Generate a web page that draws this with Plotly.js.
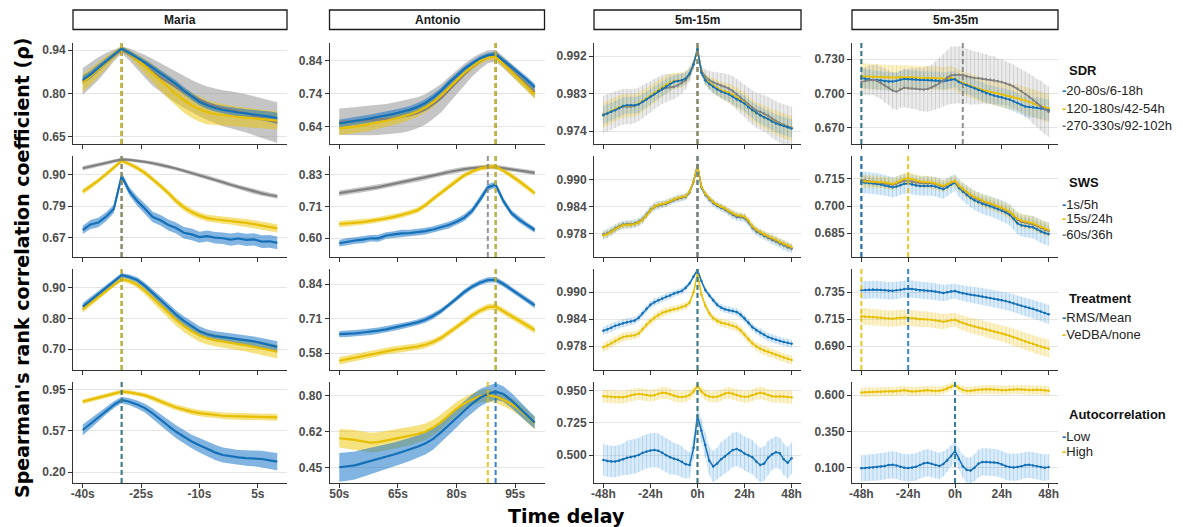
<!DOCTYPE html>
<html><head><meta charset="utf-8">
<script src="https://cdn.plot.ly/plotly-3.0.1.min.js"></script>
<style>html,body{margin:0;padding:0;background:#fff}#chart{width:1183px;height:527px}</style>
</head><body><div id="chart"></div>
<script>
// ---------- x positions ----------
const mariaX = [-40,-38,-36,-34,-32,-30,-28,-26,-24,-22,-20,-18,-16,-14,-12,-10,-8,-6,-4,-2,0,2,4,6,8,10];
const antonioX = [50,52,54,56,58,60,62,64,66,68,70,72,74,76,78,80,82,84,86,88,90,92,94,96,98,100];
const hourX = [-48,-46,-44,-42,-40,-38,-36,-34,-32,-30,-28,-26,-24,-22,-20,-18,-16,-14,-12,-10,-8,-6,-4,-2,0,2,4,6,8,10,12,14,16,18,20,22,24,26,28,30,32,34,36,38,40,42,44,46,48];

// ---------- facet / legend labels ----------
const facetLabels = ['Maria','Antonio','5m-15m','5m-35m'];
const legendTitles = ['SDR','SWS','Treatment','Autocorrelation'];
const sdrLabels = ['20-80s/6-18h','120-180s/42-54h','270-330s/92-102h'];
const swsLabels = ['1s/5h','15s/24h','60s/36h'];
const treatLabels = ['RMS/Mean','VeDBA/none'];
const autoLabels = ['Low','High'];
const xTickLabelsSec1 = ['-40s','-25s','-10s','5s'];
const xTickLabelsSec2 = ['50s','65s','80s','95s'];
const xTickLabelsHour = ['-48h','-24h','0h','24h','48h'];

// ---------- SDR row ----------
const sdrMariaBlue   = [.840,.858,.880,.902,.925,.945,.930,.915,.898,.880,.862,.845,.826,.804,.785,.767,.755,.746,.740,.735,.731,.728,.725,.721,.717,.712];
const sdrMariaBlueHW = [.014,.013,.012,.011,.009,.007,.008,.009,.010,.011,.012,.012,.012,.012,.012,.012,.012,.012,.013,.013,.014,.014,.015,.016,.017,.018];
const sdrMariaYellow   = [.830,.852,.875,.898,.922,.945,.928,.908,.886,.862,.838,.815,.792,.772,.755,.742,.732,.726,.722,.719,.716,.714,.712,.710,.707,.704];
const sdrMariaYellowHW = [.030,.028,.025,.020,.014,.008,.012,.018,.024,.030,.034,.038,.040,.042,.042,.042,.040,.038,.036,.035,.034,.033,.032,.032,.031,.030];
const sdrMariaGrey   = [.835,.856,.878,.900,.922,.940,.925,.905,.885,.865,.848,.832,.815,.800,.786,.773,.762,.753,.745,.740,.735,.728,.720,.712,.704,.697];
const sdrMariaGreyHW = [.045,.042,.038,.030,.020,.012,.020,.030,.038,.045,.048,.050,.052,.053,.054,.055,.056,.058,.060,.062,.063,.064,.065,.066,.067,.068];

const sdrAntonioBlue   = [.650,.653,.657,.661,.665,.669,.674,.679,.685,.691,.700,.712,.728,.748,.772,.795,.815,.832,.847,.856,.860,.840,.822,.802,.782,.760];
const sdrAntonioBlueHW = [.012,.012,.012,.012,.012,.012,.012,.012,.012,.012,.012,.011,.011,.010,.010,.009,.009,.008,.008,.008,.008,.008,.009,.009,.010,.010];
const sdrAntonioYellow   = [.635,.637,.640,.644,.648,.653,.658,.664,.670,.677,.686,.698,.714,.734,.757,.781,.803,.822,.839,.851,.852,.830,.808,.785,.762,.738];
const sdrAntonioYellowHW = [.020,.020,.020,.020,.020,.019,.019,.018,.018,.017,.016,.015,.014,.013,.012,.011,.010,.010,.010,.010,.010,.011,.012,.013,.014,.015];
const sdrAntonioGrey   = [.655,.656,.657,.658,.659,.660,.663,.666,.670,.675,.682,.692,.708,.726,.750,.775,.798,.820,.838,.852,.855,.835,.813,.790,.768,.745];
const sdrAntonioGreyHW = [.040,.040,.042,.044,.045,.045,.046,.047,.048,.048,.047,.046,.045,.043,.040,.037,.033,.028,.024,.020,.018,.018,.018,.018,.018,.018];

const sdr15Blue   = [.9778,.9782,.9786,.9790,.9795,.9800,.9802,.9802,.9802,.9804,.9810,.9816,.9822,.9829,.9836,.9842,.9847,.9853,.9858,.9860,.9862,.9866,.9878,.9900,.9936,.9880,.9862,.9853,.9846,.9840,.9835,.9831,.9828,.9822,.9816,.9812,.9806,.9797,.9790,.9783,.9778,.9773,.9769,.9763,.9758,.9755,.9752,.9749,.9746];
const sdr15BlueHW = [.0022,.0022,.0022,.0021,.0021,.0021,.0020,.0020,.0020,.0020,.0019,.0019,.0019,.0018,.0018,.0018,.0017,.0017,.0016,.0016,.0015,.0014,.0012,.0009,.0005,.0009,.0012,.0014,.0015,.0016,.0016,.0017,.0017,.0018,.0018,.0018,.0019,.0019,.0019,.0020,.0020,.0020,.0021,.0021,.0021,.0022,.0022,.0022,.0022];
const sdr15Yellow   = [.9778,.9783,.9788,.9792,.9797,.9800,.9801,.9801,.9802,.9806,.9812,.9818,.9824,.9831,.9838,.9845,.9851,.9856,.9860,.9861,.9862,.9866,.9878,.9900,.9936,.9882,.9864,.9856,.9849,.9843,.9838,.9835,.9832,.9827,.9820,.9814,.9808,.9798,.9789,.9783,.9778,.9773,.9769,.9764,.9760,.9756,.9752,.9749,.9747];
const sdr15YellowHW = [.0030,.0030,.0029,.0029,.0028,.0028,.0028,.0027,.0027,.0026,.0026,.0025,.0025,.0024,.0024,.0023,.0022,.0021,.0020,.0019,.0018,.0016,.0013,.0010,.0006,.0010,.0013,.0016,.0018,.0019,.0020,.0021,.0022,.0023,.0024,.0024,.0025,.0025,.0026,.0026,.0027,.0027,.0028,.0028,.0029,.0029,.0030,.0030,.0030];
const sdr15Grey   = [.9780,.9783,.9787,.9791,.9795,.9798,.9799,.9798,.9800,.9804,.9810,.9816,.9822,.9829,.9835,.9840,.9843,.9845,.9846,.9850,.9855,.9862,.9876,.9900,.9937,.9885,.9870,.9862,.9857,.9853,.9849,.9846,.9842,.9836,.9828,.9820,.9812,.9803,.9795,.9789,.9786,.9782,.9777,.9770,.9764,.9759,.9755,.9751,.9748];
const sdr15GreyHW = [.0045,.0045,.0044,.0044,.0043,.0043,.0042,.0042,.0041,.0040,.0040,.0039,.0038,.0037,.0036,.0035,.0034,.0032,.0030,.0028,.0025,.0022,.0018,.0013,.0008,.0013,.0018,.0022,.0025,.0028,.0030,.0032,.0034,.0036,.0037,.0038,.0039,.0040,.0041,.0042,.0043,.0044,.0045,.0046,.0047,.0048,.0049,.0050,.0050];

const sdr35Blue   = [.7135,.7128,.7122,.7117,.7116,.7112,.7106,.7102,.7104,.7110,.7120,.7125,.7124,.7122,.7120,.7117,.7116,.7117,.7116,.7114,.7110,.7106,.7112,.7120,.7122,.7098,.7082,.7070,.7058,.7045,.7030,.7015,.7000,.6990,.6980,.6972,.6965,.6955,.6945,.6930,.6915,.6900,.6885,.6880,.6878,.6875,.6868,.6860,.6852];
const sdr35BlueHW = [.0085,.0084,.0083,.0082,.0080,.0081,.0079,.0080,.0078,.0079,.0078,.0077,.0078,.0076,.0077,.0075,.0076,.0075,.0074,.0075,.0073,.0074,.0072,.0073,.0070,.0072,.0073,.0075,.0074,.0076,.0077,.0079,.0078,.0080,.0081,.0083,.0082,.0084,.0085,.0086,.0088,.0087,.0089,.0090,.0092,.0091,.0093,.0094,.0095];
const sdr35Yellow   = [.7150,.7148,.7146,.7145,.7143,.7142,.7140,.7138,.7137,.7138,.7140,.7141,.7140,.7139,.7138,.7136,.7135,.7134,.7133,.7132,.7130,.7128,.7130,.7135,.7125,.7105,.7090,.7078,.7065,.7052,.7040,.7030,.7020,.7012,.7005,.6998,.6990,.6982,.6975,.6968,.6960,.6950,.6938,.6925,.6912,.6900,.6888,.6878,.6870];
const sdr35YellowHW = [.0115,.0114,.0112,.0113,.0111,.0110,.0111,.0109,.0110,.0108,.0109,.0107,.0108,.0106,.0107,.0105,.0106,.0104,.0105,.0103,.0104,.0102,.0103,.0101,.0100,.0101,.0102,.0103,.0104,.0105,.0106,.0108,.0107,.0109,.0110,.0112,.0111,.0113,.0114,.0115,.0117,.0116,.0118,.0119,.0121,.0120,.0122,.0123,.0124];
const sdr35Grey   = [.7100,.7108,.7114,.7116,.7110,.7090,.7070,.7050,.7025,.7015,.7035,.7048,.7045,.7042,.7040,.7036,.7034,.7038,.7050,.7068,.7090,.7115,.7140,.7158,.7160,.7162,.7163,.7150,.7140,.7135,.7132,.7128,.7124,.7119,.7114,.7106,.7098,.7088,.7075,.7060,.7040,.7020,.6995,.6970,.6942,.6915,.6890,.6862,.6840];
const sdr35GreyHW = [.012,.012,.013,.013,.014,.014,.015,.015,.016,.016,.016,.017,.017,.018,.018,.019,.019,.020,.020,.021,.022,.023,.024,.025,.025,.025,.025,.024,.024,.023,.023,.022,.022,.021,.021,.020,.020,.019,.019,.019,.019,.019,.020,.020,.021,.021,.022,.022,.022];

// ---------- SWS row ----------
const swsMariaBlue   = [.698,.718,.725,.746,.775,.894,.838,.803,.775,.745,.733,.716,.705,.688,.682,.672,.676,.670,.668,.663,.667,.662,.664,.656,.657,.651];
const swsMariaBlueHW = [.015,.016,.017,.016,.015,.012,.015,.017,.018,.019,.019,.020,.020,.021,.021,.020,.020,.021,.021,.022,.022,.022,.022,.023,.023,.023];
const swsMariaYellow   = [.837,.856,.877,.900,.924,.949,.937,.923,.905,.882,.858,.832,.803,.780,.763,.750,.741,.737,.734,.731,.728,.724,.719,.714,.709,.704];
const swsMariaYellowHW = [.010,.010,.009,.009,.008,.007,.008,.009,.010,.010,.011,.011,.012,.012,.012,.012,.012,.013,.013,.013,.014,.014,.014,.015,.015,.015];
const swsMariaGrey   = [.922,.928,.934,.941,.948,.954,.952,.949,.945,.940,.935,.928,.921,.913,.905,.897,.889,.880,.871,.862,.854,.846,.838,.831,.825,.820];
const swsMariaGreyHW = [.008,.008,.007,.007,.006,.006,.006,.006,.006,.007,.007,.007,.007,.007,.008,.008,.008,.008,.008,.008,.008,.009,.009,.009,.009,.009];

const swsAntonioBlue   = [.582,.588,.592,.595,.600,.600,.610,.614,.618,.619,.622,.626,.632,.640,.648,.660,.675,.700,.740,.785,.795,.735,.692,.668,.648,.630];
const swsAntonioBlueHW = [.012,.013,.012,.013,.012,.013,.012,.012,.013,.012,.012,.012,.012,.012,.012,.012,.012,.012,.012,.011,.011,.011,.011,.011,.010,.010];
const swsAntonioYellow   = [.652,.654,.656,.659,.663,.667,.672,.678,.685,.693,.702,.720,.743,.765,.788,.810,.829,.843,.854,.859,.861,.846,.828,.808,.786,.764];
const swsAntonioYellowHW = [.011,.011,.011,.010,.010,.010,.010,.010,.010,.010,.010,.010,.010,.010,.010,.010,.009,.009,.009,.009,.009,.009,.010,.010,.010,.010];
const swsAntonioGrey   = [.764,.768,.772,.776,.781,.786,.792,.798,.804,.809,.814,.820,.827,.834,.841,.847,.851,.855,.858,.860,.859,.855,.851,.847,.842,.838];
const swsAntonioGreyHW = [.010,.010,.010,.010,.010,.010,.009,.009,.009,.009,.009,.009,.009,.009,.009,.009,.009,.008,.008,.008,.008,.008,.008,.008,.008,.008];

const sws15Blue   = [.9778,.9781,.9786,.9792,.9797,.9800,.9801,.9801,.9803,.9806,.9812,.9822,.9833,.9840,.9843,.9845,.9847,.9851,.9855,.9858,.9860,.9862,.9872,.9895,.9931,.9882,.9866,.9856,.9848,.9842,.9838,.9834,.9828,.9822,.9818,.9817,.9815,.9806,.9794,.9786,.9781,.9776,.9772,.9768,.9764,.9759,.9755,.9751,.9748];
const sws15BlueHW = [.0010,.0010,.0010,.0010,.0009,.0009,.0009,.0009,.0009,.0009,.0009,.0009,.0009,.0009,.0009,.0008,.0008,.0008,.0008,.0008,.0008,.0008,.0007,.0006,.0005,.0006,.0007,.0008,.0008,.0008,.0008,.0008,.0008,.0009,.0009,.0009,.0009,.0009,.0009,.0009,.0009,.0009,.0009,.0010,.0010,.0010,.0010,.0010,.0010];
const sws15Yellow   = [.9777,.9780,.9785,.9791,.9796,.9799,.9800,.9800,.9802,.9805,.9811,.9821,.9832,.9840,.9844,.9846,.9848,.9852,.9856,.9859,.9861,.9863,.9873,.9896,.9931,.9884,.9868,.9858,.9850,.9844,.9840,.9836,.9830,.9825,.9821,.9820,.9818,.9809,.9797,.9789,.9784,.9779,.9775,.9771,.9767,.9762,.9758,.9754,.9751];
const sws15YellowHW = [.0008,.0008,.0008,.0008,.0008,.0007,.0007,.0007,.0007,.0007,.0007,.0007,.0007,.0007,.0007,.0007,.0007,.0007,.0006,.0006,.0006,.0006,.0006,.0005,.0004,.0005,.0006,.0006,.0006,.0006,.0007,.0007,.0007,.0007,.0007,.0007,.0007,.0007,.0007,.0007,.0007,.0008,.0008,.0008,.0008,.0008,.0008,.0008,.0008];
const sws15Grey   = [.9778,.9781,.9785,.9791,.9796,.9800,.9801,.9801,.9802,.9806,.9812,.9822,.9832,.9840,.9843,.9845,.9847,.9851,.9855,.9858,.9860,.9862,.9872,.9895,.9930,.9883,.9867,.9857,.9849,.9843,.9839,.9835,.9829,.9823,.9819,.9818,.9816,.9807,.9795,.9787,.9782,.9777,.9773,.9769,.9765,.9760,.9756,.9752,.9749];
const sws15GreyHW = [.0006,.0006,.0006,.0006,.0006,.0006,.0006,.0006,.0006,.0006,.0006,.0006,.0005,.0005,.0005,.0005,.0005,.0005,.0005,.0005,.0005,.0005,.0005,.0004,.0004,.0004,.0005,.0005,.0005,.0005,.0005,.0005,.0005,.0005,.0005,.0005,.0005,.0005,.0006,.0006,.0006,.0006,.0006,.0006,.0006,.0006,.0006,.0006,.0006];

const sws35Blue   = [.7132,.7130,.7128,.7126,.7124,.7120,.7114,.7110,.7104,.7108,.7116,.7124,.7125,.7120,.7114,.7111,.7111,.7112,.7111,.7108,.7100,.7093,.7105,.7120,.7130,.7100,.7080,.7062,.7045,.7032,.7022,.7012,.7006,.7000,.6993,.6983,.6975,.6965,.6952,.6930,.6905,.6894,.6890,.6886,.6883,.6872,.6860,.6852,.6846];
const sws35BlueHW = [.0060,.0060,.0059,.0058,.0058,.0057,.0057,.0056,.0056,.0056,.0055,.0055,.0055,.0055,.0054,.0054,.0054,.0054,.0053,.0053,.0053,.0052,.0050,.0048,.0046,.0048,.0050,.0052,.0053,.0054,.0055,.0055,.0056,.0056,.0057,.0057,.0058,.0058,.0059,.0059,.0060,.0060,.0061,.0061,.0062,.0062,.0063,.0063,.0064];
const sws35Yellow   = [.7138,.7137,.7136,.7135,.7134,.7133,.7130,.7126,.7122,.7130,.7140,.7150,.7155,.7148,.7140,.7136,.7134,.7133,.7130,.7125,.7118,.7112,.7120,.7132,.7138,.7112,.7095,.7078,.7062,.7050,.7040,.7030,.7022,.7015,.7008,.7000,.6990,.6980,.6968,.6950,.6930,.6920,.6915,.6910,.6905,.6895,.6885,.6876,.6868];
const sws35YellowHW = [.0036,.0036,.0035,.0035,.0035,.0034,.0034,.0034,.0034,.0033,.0033,.0033,.0032,.0033,.0033,.0033,.0034,.0034,.0034,.0034,.0033,.0033,.0032,.0031,.0030,.0031,.0032,.0033,.0033,.0034,.0034,.0035,.0035,.0035,.0036,.0036,.0036,.0037,.0037,.0037,.0038,.0038,.0038,.0039,.0039,.0039,.0040,.0040,.0040];
const sws35Grey   = [.7145,.7142,.7138,.7135,.7132,.7130,.7127,.7122,.7118,.7125,.7133,.7140,.7140,.7135,.7130,.7128,.7127,.7128,.7126,.7122,.7115,.7108,.7118,.7130,.7136,.7110,.7092,.7075,.7058,.7046,.7036,.7026,.7018,.7012,.7005,.6996,.6986,.6976,.6964,.6945,.6925,.6914,.6909,.6904,.6900,.6890,.6880,.6870,.6862];
const sws35GreyHW = [.0026,.0026,.0025,.0025,.0025,.0025,.0024,.0024,.0024,.0024,.0024,.0023,.0023,.0023,.0023,.0023,.0023,.0023,.0023,.0022,.0022,.0022,.0021,.0020,.0019,.0020,.0021,.0022,.0022,.0023,.0023,.0023,.0024,.0024,.0024,.0024,.0025,.0025,.0025,.0025,.0026,.0026,.0026,.0026,.0027,.0027,.0027,.0027,.0028];

// ---------- Treatment row ----------
const trtMariaBlue   = [.838,.858,.879,.900,.921,.941,.935,.925,.906,.884,.860,.836,.812,.792,.775,.758,.748,.742,.739,.736,.733,.729,.725,.719,.713,.707];
const trtMariaBlueHW = [.012,.011,.010,.009,.008,.007,.008,.009,.010,.011,.012,.013,.014,.015,.016,.016,.016,.016,.016,.016,.016,.016,.016,.017,.017,.018];
const trtMariaYellow   = [.830,.850,.870,.890,.910,.928,.922,.910,.890,.866,.842,.818,.795,.775,.758,.744,.735,.729,.724,.720,.716,.712,.707,.702,.697,.691];
const trtMariaYellowHW = [.012,.011,.010,.009,.008,.008,.009,.010,.012,.014,.016,.018,.019,.020,.020,.020,.020,.020,.020,.020,.020,.020,.021,.021,.022,.022];

const trtAntonioBlue   = [.652,.653,.655,.658,.661,.665,.670,.676,.682,.688,.696,.706,.720,.738,.760,.785,.810,.830,.845,.855,.856,.840,.820,.800,.780,.760];
const trtAntonioBlueHW = [.012,.012,.012,.012,.012,.012,.012,.011,.011,.011,.011,.011,.011,.010,.010,.010,.010,.010,.010,.010,.010,.010,.010,.010,.010,.011];
const trtAntonioYellow   = [.552,.558,.564,.570,.576,.582,.588,.593,.597,.601,.605,.612,.622,.637,.656,.678,.700,.722,.740,.753,.755,.738,.722,.704,.685,.667];
const trtAntonioYellowHW = [.014,.014,.014,.013,.013,.013,.013,.013,.013,.013,.013,.013,.012,.012,.012,.012,.012,.012,.012,.012,.012,.012,.012,.012,.013,.013];

const trt15Blue   = [.9814,.9817,.9821,.9825,.9828,.9831,.9833,.9835,.9837,.9843,.9853,.9863,.9872,.9878,.9882,.9886,.9890,.9893,.9897,.9900,.9903,.9910,.9920,.9935,.9950,.9925,.9905,.9893,.9882,.9872,.9866,.9862,.9860,.9858,.9856,.9850,.9842,.9832,.9822,.9815,.9810,.9805,.9800,.9797,.9794,.9791,.9789,.9787,.9785];
const trt15BlueHW = [.0009,.0009,.0009,.0009,.0009,.0009,.0009,.0008,.0008,.0008,.0008,.0008,.0008,.0008,.0008,.0008,.0008,.0008,.0007,.0007,.0007,.0007,.0006,.0005,.0004,.0005,.0006,.0007,.0007,.0007,.0008,.0008,.0008,.0008,.0008,.0008,.0008,.0008,.0008,.0008,.0009,.0009,.0009,.0009,.0009,.0009,.0009,.0009,.0009];
const trt15Yellow   = [.9777,.9781,.9786,.9791,.9796,.9800,.9802,.9803,.9804,.9808,.9818,.9828,.9836,.9843,.9849,.9854,.9857,.9860,.9862,.9864,.9867,.9870,.9877,.9900,.9942,.9895,.9870,.9853,.9842,.9836,.9832,.9830,.9828,.9825,.9822,.9815,.9805,.9795,.9786,.9779,.9774,.9770,.9767,.9764,.9760,.9757,.9754,.9751,.9749];
const trt15YellowHW = [.0010,.0010,.0010,.0010,.0010,.0010,.0009,.0009,.0009,.0009,.0009,.0009,.0009,.0009,.0009,.0009,.0009,.0008,.0008,.0008,.0008,.0008,.0007,.0006,.0005,.0006,.0007,.0008,.0008,.0008,.0009,.0009,.0009,.0009,.0009,.0009,.0009,.0009,.0009,.0009,.0010,.0010,.0010,.0010,.0010,.0010,.0010,.0010,.0010];

const trt35Blue   = [.7368,.7370,.7372,.7373,.7372,.7370,.7366,.7363,.7362,.7366,.7372,.7377,.7380,.7377,.7372,.7368,.7365,.7363,.7360,.7356,.7350,.7345,.7350,.7358,.7360,.7350,.7342,.7336,.7330,.7325,.7320,.7314,.7308,.7302,.7296,.7290,.7284,.7276,.7268,.7258,.7248,.7238,.7228,.7220,.7212,.7200,.7188,.7176,.7165];
const trt35BlueHW = [.0075,.0075,.0074,.0074,.0074,.0073,.0073,.0073,.0072,.0072,.0072,.0071,.0071,.0071,.0071,.0070,.0070,.0070,.0070,.0069,.0069,.0068,.0066,.0064,.0062,.0064,.0066,.0068,.0069,.0070,.0070,.0071,.0071,.0072,.0072,.0073,.0073,.0074,.0074,.0075,.0075,.0076,.0076,.0077,.0077,.0078,.0078,.0079,.0079];
const trt35Yellow   = [.7150,.7146,.7142,.7140,.7138,.7136,.7133,.7130,.7129,.7132,.7136,.7138,.7136,.7132,.7128,.7125,.7124,.7123,.7120,.7116,.7110,.7104,.7110,.7118,.7120,.7105,.7092,.7082,.7072,.7064,.7056,.7048,.7040,.7032,.7024,.7015,.7006,.6996,.6986,.6974,.6962,.6950,.6938,.6928,.6918,.6906,.6895,.6886,.6878];
const trt35YellowHW = [.0070,.0070,.0070,.0069,.0069,.0069,.0068,.0068,.0068,.0068,.0067,.0067,.0067,.0067,.0066,.0066,.0066,.0066,.0065,.0065,.0065,.0064,.0062,.0060,.0058,.0060,.0062,.0064,.0065,.0066,.0066,.0067,.0067,.0068,.0068,.0069,.0069,.0070,.0070,.0071,.0071,.0072,.0072,.0073,.0073,.0074,.0074,.0075,.0075];

// ---------- Autocorrelation row ----------
const acMariaBlue   = [.582,.640,.700,.758,.810,.853,.838,.812,.780,.732,.673,.620,.566,.520,.478,.444,.410,.380,.356,.342,.334,.328,.326,.320,.308,.296];
const acMariaBlueHW = [.050,.045,.040,.035,.032,.030,.032,.036,.040,.045,.050,.055,.058,.060,.062,.065,.066,.068,.068,.068,.068,.070,.072,.074,.076,.078];
const acMariaYellow   = [.838,.855,.873,.892,.912,.928,.922,.910,.895,.870,.838,.812,.786,.765,.748,.734,.724,.717,.711,.707,.704,.702,.700,.699,.698,.697];
const acMariaYellowHW = [.020,.020,.020,.020,.020,.020,.020,.021,.022,.023,.024,.025,.026,.027,.028,.028,.029,.029,.030,.030,.030,.030,.030,.031,.031,.031];

const acAntonioBlue   = [.452,.456,.461,.472,.482,.492,.503,.514,.526,.538,.552,.568,.590,.622,.658,.694,.730,.762,.790,.808,.820,.808,.778,.740,.703,.669];
const acAntonioBlueHW = [.070,.070,.068,.066,.064,.062,.060,.058,.057,.056,.055,.054,.053,.052,.050,.048,.046,.044,.042,.040,.040,.038,.036,.034,.032,.030];
const acAntonioYellow   = [.593,.590,.585,.578,.572,.574,.582,.589,.596,.603,.613,.625,.645,.672,.705,.737,.762,.782,.797,.803,.795,.780,.760,.735,.700,.666];
const acAntonioYellowHW = [.045,.047,.048,.048,.048,.048,.047,.046,.045,.044,.042,.040,.038,.036,.034,.032,.030,.030,.030,.030,.030,.030,.030,.030,.030,.030];

const ac15Blue   = [.465,.458,.454,.454,.460,.470,.480,.486,.490,.500,.515,.525,.532,.535,.530,.515,.498,.485,.474,.466,.452,.435,.430,.550,.775,.670,.570,.460,.420,.440,.470,.490,.512,.535,.542,.530,.510,.498,.485,.455,.430,.440,.480,.505,.520,.512,.470,.445,.478];
const ac15BlueHW = [.11,.11,.11,.11,.11,.11,.12,.12,.12,.12,.12,.12,.12,.12,.12,.12,.12,.12,.11,.11,.11,.10,.09,.08,.07,.08,.09,.10,.11,.11,.12,.12,.12,.12,.12,.12,.12,.12,.12,.12,.12,.12,.12,.11,.11,.11,.11,.11,.11];
const ac15Yellow   = [.912,.910,.906,.905,.904,.905,.910,.918,.924,.927,.925,.920,.915,.918,.928,.935,.934,.926,.915,.908,.906,.910,.920,.945,.985,.945,.920,.910,.906,.908,.918,.930,.935,.930,.920,.912,.908,.910,.920,.930,.935,.930,.920,.912,.910,.912,.910,.906,.904];
const ac15YellowHW = [.045,.045,.044,.044,.044,.043,.043,.043,.042,.042,.042,.042,.041,.041,.041,.041,.040,.040,.040,.040,.039,.038,.036,.032,.025,.032,.036,.038,.039,.040,.040,.040,.041,.041,.041,.041,.042,.042,.042,.042,.043,.043,.043,.043,.044,.044,.044,.045,.045];

const ac35Blue   = [.096,.098,.100,.102,.104,.108,.112,.118,.120,.116,.106,.100,.098,.100,.106,.118,.130,.134,.128,.118,.112,.125,.150,.180,.215,.160,.110,.085,.080,.100,.128,.140,.140,.138,.135,.132,.122,.110,.104,.102,.104,.110,.118,.120,.116,.110,.104,.100,.104];
const ac35BlueHW = [.090,.090,.091,.091,.092,.092,.092,.093,.093,.093,.093,.093,.094,.094,.094,.094,.094,.093,.093,.092,.090,.086,.080,.072,.065,.072,.080,.086,.090,.092,.093,.093,.094,.094,.094,.094,.093,.093,.093,.092,.092,.092,.091,.091,.091,.090,.090,.090,.090];
const ac35Yellow   = [.618,.619,.620,.621,.622,.623,.624,.624,.623,.625,.630,.633,.628,.624,.625,.628,.631,.632,.630,.628,.630,.635,.645,.655,.670,.648,.635,.628,.628,.632,.636,.638,.639,.639,.637,.634,.632,.633,.636,.638,.639,.638,.636,.634,.634,.636,.635,.632,.630];
const ac35YellowHW = [.032,.032,.032,.031,.031,.031,.031,.031,.030,.030,.030,.030,.030,.030,.030,.030,.030,.030,.030,.029,.029,.028,.027,.025,.022,.025,.027,.028,.029,.029,.030,.030,.030,.030,.030,.030,.030,.030,.030,.030,.031,.031,.031,.031,.031,.031,.032,.032,.032];

// ---------- styling ----------
const W = 1183, H = 527;
const colPx = [[73,287],[329.5,544.5],[594,801],[852,1058]];
const rowPx = [[43,144],[156,257],[269,370],[382,483]];
const C = {
  blue:   {line:'#1570B8', fill:'rgba(25,118,200,0.55)', band:'rgba(100,170,228,0.24)', bar:'rgba(90,165,225,0.32)'},
  yellow: {line:'#E6BE00', fill:'rgba(238,196,0,0.50)',  band:'rgba(240,205,60,0.26)', bar:'rgba(235,200,40,0.32)'},
  grey:   {line:'#808080', fill:'rgba(150,150,150,0.55)', band:'rgba(170,170,170,0.24)', bar:'rgba(150,150,150,0.32)'}
};
const xRanges = [[-42.5,12.5],[47.5,102.5],[-52.8,52.8],[-52.8,52.8]];
const xTicks = [[-40,-25,-10,5],[50,65,80,95],[-48,-24,0,24,48],[-48,-24,0,24,48]];
const xTickText = [xTickLabelsSec1, xTickLabelsSec2, xTickLabelsHour, xTickLabelsHour];
const xData = [mariaX, antonioX, hourX, hourX];

// s: series drawn in listed order; v: order of the dashed peak lines (last on top)
const panels = [
  {r:0,c:0,s:[['grey',sdrMariaGrey,sdrMariaGreyHW],['yellow',sdrMariaYellow,sdrMariaYellowHW],['blue',sdrMariaBlue,sdrMariaBlueHW]], v:['blue','grey','yellow'], yr:[0.6256,0.9634], yt:[0.65,0.795,0.94], yl:['0.65','0.80','0.94']},
  {r:0,c:1,s:[['grey',sdrAntonioGrey,sdrAntonioGreyHW],['yellow',sdrAntonioYellow,sdrAntonioYellowHW],['blue',sdrAntonioBlue,sdrAntonioBlueHW]], v:['blue','grey','yellow'], yr:[0.5876,0.8936], yt:[0.64,0.74,0.84], yl:['0.64','0.74','0.84']},
  {r:0,c:2,s:[['grey',sdr15Grey,sdr15GreyHW],['yellow',sdr15Yellow,sdr15YellowHW],['blue',sdr15Blue,sdr15BlueHW]], v:['blue','yellow','grey'], yr:[0.97088,0.99512], yt:[0.974,0.983,0.992], yl:['0.974','0.983','0.992']},
  {r:0,c:3,s:[['yellow',sdr35Yellow,sdr35YellowHW],['blue',sdr35Blue,sdr35BlueHW],['grey',sdr35Grey,sdr35GreyHW]], v:['yellow','blue','grey'], yr:[0.6557,0.744], yt:[0.67,0.70,0.73], yl:['0.670','0.700','0.730']},
  {r:1,c:0,s:[['blue',swsMariaBlue,swsMariaBlueHW],['yellow',swsMariaYellow,swsMariaYellowHW],['grey',swsMariaGrey,swsMariaGreyHW]], v:['blue','yellow','grey'], yr:[0.600,0.9664], yt:[0.67,0.785,0.90], yl:['0.67','0.79','0.90']},
  {r:1,c:1,s:[['blue',swsAntonioBlue,swsAntonioBlueHW],['grey',swsAntonioGrey,swsAntonioGreyHW],['yellow',swsAntonioYellow,swsAntonioYellowHW]], v:['blue','grey','yellow'], yr:[0.532,0.899], yt:[0.60,0.715,0.83], yl:['0.60','0.71','0.83']},
  {r:1,c:2,s:[['blue',sws15Blue,sws15BlueHW],['grey',sws15Grey,sws15GreyHW],['yellow',sws15Yellow,sws15YellowHW]], v:['yellow','blue','grey'], yr:[0.97294,0.99512], yt:[0.978,0.984,0.990], yl:['0.978','0.984','0.990']},
  {r:1,c:3,s:[['blue',sws35Blue,sws35BlueHW],['grey',sws35Grey,sws35GreyHW],['yellow',sws35Yellow,sws35YellowHW]], v:['grey','blue','yellow'], yr:[0.6719,0.7277], yt:[0.685,0.70,0.715], yl:['0.685','0.700','0.715']},
  {r:2,c:0,s:[['yellow',trtMariaYellow,trtMariaYellowHW],['blue',trtMariaBlue,trtMariaBlueHW]], v:['blue','yellow'], yr:[0.6315,0.961], yt:[0.70,0.80,0.90], yl:['0.70','0.80','0.90']},
  {r:2,c:1,s:[['yellow',trtAntonioYellow,trtAntonioYellowHW],['blue',trtAntonioBlue,trtAntonioBlueHW]], v:['blue','yellow'], yr:[0.5173,0.8963], yt:[0.58,0.71,0.84], yl:['0.58','0.71','0.84']},
  {r:2,c:2,s:[['yellow',trt15Yellow,trt15YellowHW],['blue',trt15Blue,trt15BlueHW]], v:['yellow','blue'], yr:[0.97264,0.9952], yt:[0.978,0.984,0.990], yl:['0.978','0.984','0.990']},
  {r:2,c:3,s:[['yellow',trt35Yellow,trt35YellowHW],['blue',trt35Blue,trt35BlueHW]], v:['yellow','blue'], yr:[0.6699,0.7545], yt:[0.69,0.7125,0.735], yl:['0.690','0.715','0.735']},
  {r:3,c:0,s:[['yellow',acMariaYellow,acMariaYellowHW],['blue',acMariaBlue,acMariaBlueHW]], v:['yellow','blue'], yr:[0.103,1.016], yt:[0.20,0.575,0.95], yl:['0.20','0.57','0.95']},
  {r:3,c:1,s:[['yellow',acAntonioYellow,acAntonioYellowHW],['blue',acAntonioBlue,acAntonioBlueHW]], v:['yellow','blue'], yr:[0.3756,0.8666], yt:[0.45,0.625,0.80], yl:['0.45','0.62','0.80']},
  {r:3,c:2,s:[['yellow',ac15Yellow,ac15YellowHW],['blue',ac15Blue,ac15BlueHW]], v:['yellow','blue'], yr:[0.304,1.011], yt:[0.50,0.725,0.95], yl:['0.500','0.725','0.950']},
  {r:3,c:3,s:[['yellow',ac35Yellow,ac35YellowHW],['blue',ac35Blue,ac35BlueHW]], v:['yellow','blue'], yr:[-0.0052,0.6894], yt:[0.10,0.35,0.60], yl:['0.100','0.350','0.600']}
];

const TF = {family:'"Liberation Sans", Arial, sans-serif', size:12, color:'#4d4d4d', weight:'bold'};
const traces = [], shapes = [], annotations = [];
const layout = {width:W, height:H, margin:{l:0,r:0,t:0,b:0}, paper_bgcolor:'#fff', plot_bgcolor:'#fff', showlegend:false, shapes:shapes, annotations:annotations};

function argmax(a){let k=0;for(let i=1;i<a.length;i++) if(a[i]>a[k]) k=i; return k;}

panels.forEach((p,i)=>{
  const n = i+1, sfx = n===1?'':String(n);
  const xa = 'x'+sfx, ya = 'y'+sfx;
  const xs = xData[p.c];
  const hourly = p.c >= 2;
  p.s.forEach(([col,y,hw])=>{
    const up = y.map((v,j)=>v+hw[j]);
    const lo = y.map((v,j)=>v-hw[j]);
    traces.push({type:'scatter', mode:'lines', x: xs.concat(xs.slice().reverse()), y: up.concat(lo.slice().reverse()),
      fill:'toself', fillcolor: hourly ? C[col].band : C[col].fill, line:{width:0, color:'rgba(0,0,0,0)'},
      hoverinfo:'skip', xaxis:xa, yaxis:ya});
  });
  if (hourly) {
    p.s.forEach(([col,y,hw])=>{
      traces.push({type:'scatter', mode:'markers', x:xs, y:y, marker:{size:1, opacity:0},
        error_y:{type:'data', array:hw, visible:true, color:C[col].bar, thickness:1, width:0},
        hoverinfo:'skip', xaxis:xa, yaxis:ya});
    });
  }
  p.s.forEach(([col,y])=>{
    const t = {type:'scatter', x:xs, y:y, mode: hourly ? 'lines+markers' : 'lines',
      line:{color:C[col].line, width: hourly ? 1.5 : 2.2}, xaxis:xa, yaxis:ya};
    if (hourly) t.marker = {size:2.5, color:C[col].line};
    traces.push(t);
  });
  p.v.forEach(col=>{
    const y = p.s.find(s=>s[0]===col)[1];
    const px = xs[argmax(y)];
    shapes.push({type:'line', xref:xa, yref:ya+' domain', x0:px, x1:px, y0:0, y1:1,
      line:{color:C[col].line, width:2, dash:'5px,3px'}, opacity:0.85});
  });
  layout['xaxis'+sfx] = {domain:[colPx[p.c][0]/W, colPx[p.c][1]/W], anchor:ya, range:xRanges[p.c],
    tickmode:'array', tickvals:xTicks[p.c], ticktext:xTickText[p.c], showticklabels: p.r===3,
    ticks:'outside', ticklen:4, tickwidth:1, tickcolor:'#333', showline:true, linecolor:'#333', linewidth:1,
    showgrid:false, zeroline:false, tickfont:TF, ticklabelstandoff:-4, fixedrange:true};
  layout['yaxis'+sfx] = {domain:[1-rowPx[p.r][1]/H, 1-rowPx[p.r][0]/H], anchor:xa, range:p.yr,
    tickmode:'array', tickvals:p.yt, ticktext:p.yl,
    ticks:'outside', ticklen:4, tickwidth:1, tickcolor:'#333', showline:true, linecolor:'#333', linewidth:1,
    showgrid:true, gridcolor:'#e4e4e4', gridwidth:1, zeroline:false, tickfont:TF, fixedrange:true};
});

facetLabels.forEach((lab,c)=>{
  shapes.push({type:'rect', xref:'paper', yref:'paper', x0:colPx[c][0]/W, x1:colPx[c][1]/W, y0:1-29.5/H, y1:1-10/H,
    line:{color:'#1a1a1a', width:1.3}, fillcolor:'#fff', layer:'below'});
  annotations.push({xref:'paper', yref:'paper', x:(colPx[c][0]+colPx[c][1])/2/W, y:1-19.8/H, xanchor:'center', yanchor:'middle',
    text:'<b>'+lab+'</b>', showarrow:false, font:{family:'"Liberation Sans", Arial, sans-serif', size:12, color:'#1a1a1a'}});
});

annotations.push({xref:'paper', yref:'paper', x:22/W, y:1-268/H, xanchor:'center', yanchor:'middle', textangle:-90,
  text:'<b>Spearman\'s rank correlation coefficient (ρ)</b>', showarrow:false,
  font:{family:'"DejaVu Sans", sans-serif', size:19, color:'#000'}});
annotations.push({xref:'paper', yref:'paper', x:566/W, y:1-516/H, xanchor:'center', yanchor:'middle',
  text:'<b>Time delay</b>', showarrow:false, font:{family:'"DejaVu Sans", sans-serif', size:19, color:'#000'}});

const legendSpecs = [
  {title:legendTitles[0], ty:70, items:sdrLabels, cols:['blue','yellow','grey'], iy:[91,108,125]},
  {title:legendTitles[1], ty:182, items:swsLabels, cols:['blue','yellow','grey'], iy:[204,219,234]},
  {title:legendTitles[2], ty:298, items:treatLabels, cols:['blue','yellow'], iy:[317,334]},
  {title:legendTitles[3], ty:414, items:autoLabels, cols:['blue','yellow'], iy:[436,451]}
];
legendSpecs.forEach(L=>{
  annotations.push({xref:'paper', yref:'paper', x:1067/W, y:1-L.ty/H, xanchor:'left', yanchor:'middle',
    text:'<b>'+L.title+'</b>', showarrow:false, font:{family:'"Liberation Sans", Arial, sans-serif', size:13, color:'#111'}});
  L.items.forEach((it,k)=>{
    annotations.push({xref:'paper', yref:'paper', x:1060/W, y:1-L.iy[k]/H, xanchor:'left', yanchor:'middle',
      text:'<b><span style="color:'+C[L.cols[k]].line+'">-</span></b>'+it, showarrow:false,
      font:{family:'"Liberation Sans", Arial, sans-serif', size:13, color:'#222'}});
  });
});

Plotly.newPlot('chart', traces, layout, {displayModeBar:false, staticPlot:true});
</script></body></html>
